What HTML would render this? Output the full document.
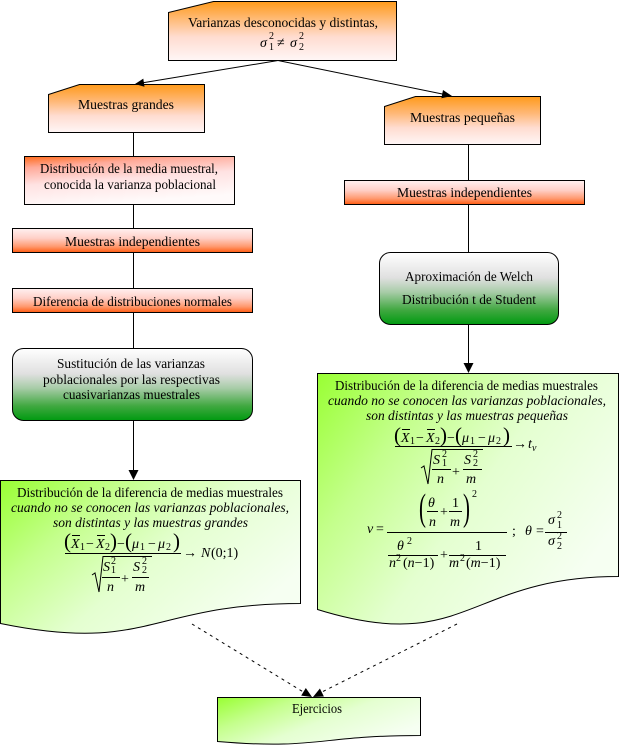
<!DOCTYPE html>
<html>
<head>
<meta charset="utf-8">
<style>
html,body{margin:0;padding:0;background:#fff;}
svg{display:block;font-family:"Liberation Serif","DejaVu Serif",serif;}
svg text{font-family:"Liberation Serif","DejaVu Serif",serif;fill:#000;}
.t{font-size:13.3px;}
.i{font-style:italic;}
.m{font-size:14px;}
.s{font-size:10px;}
</style>
</head>
<body>
<svg width="619" height="746" viewBox="0 0 619 746" xmlns="http://www.w3.org/2000/svg" font-family="Liberation Serif, DejaVu Serif, serif">
<defs>
  <linearGradient id="gOr" x1="0" y1="0" x2="0" y2="1">
    <stop offset="0" stop-color="#ff9a1a"/>
    <stop offset="0.3" stop-color="#ffbb77"/>
    <stop offset="0.6" stop-color="#ffdcd0"/>
    <stop offset="1" stop-color="#fff6f6"/>
  </linearGradient>
  <linearGradient id="gOr2" x1="0" y1="0" x2="0" y2="1">
    <stop offset="0" stop-color="#ff9a1a"/>
    <stop offset="0.35" stop-color="#ffb877"/>
    <stop offset="0.65" stop-color="#ffdcd0"/>
    <stop offset="1" stop-color="#fff6f6"/>
  </linearGradient>
  <linearGradient id="gDm" x1="0" y1="0" x2="0.3" y2="1">
    <stop offset="0" stop-color="#ff6a1a"/>
    <stop offset="0.22" stop-color="#ffaa99"/>
    <stop offset="0.55" stop-color="#ffe2e2"/>
    <stop offset="1" stop-color="#fffafa"/>
  </linearGradient>
  <linearGradient id="gIn" x1="0" y1="0" x2="0" y2="1">
    <stop offset="0" stop-color="#fff0f0"/>
    <stop offset="0.4" stop-color="#ffd0c8"/>
    <stop offset="0.75" stop-color="#ff9a70"/>
    <stop offset="1" stop-color="#ff5a10"/>
  </linearGradient>
  <linearGradient id="gGr" x1="0" y1="0" x2="0" y2="1">
    <stop offset="0" stop-color="#ffffff"/>
    <stop offset="0.35" stop-color="#e0e0e0"/>
    <stop offset="0.55" stop-color="#a8cca8"/>
    <stop offset="0.8" stop-color="#40a840"/>
    <stop offset="1" stop-color="#009a10"/>
  </linearGradient>
  <linearGradient id="gLg" x1="0" y1="0" x2="1" y2="0.6">
    <stop offset="0" stop-color="#99ff33"/>
    <stop offset="0.3" stop-color="#c4ff8c"/>
    <stop offset="0.6" stop-color="#e4ffd0"/>
    <stop offset="1" stop-color="#f6fff2"/>
  </linearGradient>
</defs>

<!-- connectors -->
<g stroke="#000" stroke-width="1" fill="none">
  <line x1="278" y1="60.5" x2="140" y2="83.2"/>
  <line x1="278" y1="60.5" x2="446" y2="94.8"/>
  <line x1="133.5" y1="132" x2="133.5" y2="156"/>
  <line x1="133.5" y1="204" x2="133.5" y2="228"/>
  <line x1="133.5" y1="252" x2="133.5" y2="288"/>
  <line x1="133.5" y1="312" x2="133.5" y2="348"/>
  <line x1="133.5" y1="420" x2="133.5" y2="472"/>
  <line x1="468.5" y1="144" x2="468.5" y2="180"/>
  <line x1="468.5" y1="204" x2="468.5" y2="252"/>
  <line x1="468.5" y1="324" x2="468.5" y2="365"/>
  <line x1="192" y1="624" x2="305" y2="693" stroke-dasharray="3,4"/>
  <line x1="457" y1="624" x2="320" y2="693" stroke-dasharray="3,4"/>
</g>

<!-- shapes -->
<g stroke="#000" stroke-width="1">
  <polygon points="168.5,12.5 213.5,1.5 396.5,1.5 396.5,60.5 168.5,60.5" fill="url(#gOr)"/>
  <polygon points="48.5,94.5 79.5,84.5 204.5,84.5 204.5,132.5 48.5,132.5" fill="url(#gOr2)"/>
  <rect x="24.5" y="156.5" width="210" height="48" fill="url(#gDm)"/>
  <rect x="12.5" y="228.5" width="240" height="24" fill="url(#gIn)"/>
  <rect x="12.5" y="288.5" width="240" height="24" fill="url(#gIn)"/>
  <rect x="12.5" y="348.5" width="240" height="72" rx="11" ry="11" fill="url(#gGr)"/>
  <path d="M0.5,480.5 H300.5 V603.5 C150,603.5 150,654 0.5,623.5 Z" fill="url(#gLg)"/>

  <polygon points="384.5,106.5 415.5,96.5 540.5,96.5 540.5,144.5 384.5,144.5" fill="url(#gOr2)"/>
  <rect x="344.5" y="180.5" width="240" height="24" fill="url(#gIn)"/>
  <rect x="379.5" y="252.5" width="179" height="72" rx="11" ry="11" fill="url(#gGr)"/>
  <path d="M317.5,373.5 H618.5 V576.5 C467,576.5 467,656 317.5,609.5 Z" fill="url(#gLg)"/>

  <path d="M217.5,697.5 H420.5 V735.5 C318,735.5 318,750 217.5,741.5 Z" fill="url(#gLg)"/>
</g>

<!-- arrowheads -->
<g fill="#000" stroke="none">
  <polygon points="135,84 143.3,78.6 144.5,86.8"/>
  <polygon points="452,96 441.4,98.2 443,90"/>
  <polygon points="133.5,480 128.5,470 138.5,470"/>
  <polygon points="468.5,373 463.5,363 473.5,363"/>
  <polygon points="312,697 301.2,695.6 305.8,688"/>
  <polygon points="313,697 323.9,696.5 319.9,688.5"/>
</g>

<!-- texts -->
<text class="t" x="188" y="27" textLength="190" lengthAdjust="spacingAndGlyphs">Varianzas desconocidas y distintas,</text>
<text class="m i" x="260" y="47">σ</text>
<text class="s" x="269" y="50">1</text>
<text class="s" x="269" y="39">2</text>
<text class="m" x="277" y="47">≠</text>
<text class="m i" x="290" y="47">σ</text>
<text class="s" x="299" y="50">2</text>
<text class="s" x="299" y="39">2</text>

<text class="t" x="78" y="109" textLength="96" lengthAdjust="spacingAndGlyphs">Muestras grandes</text>
<text class="t" x="40" y="173" textLength="178" lengthAdjust="spacingAndGlyphs">Distribución de la media muestral,</text>
<text class="t" x="44" y="189" textLength="172" lengthAdjust="spacingAndGlyphs">conocida la varianza poblacional</text>
<text class="t" x="65" y="246" textLength="135" lengthAdjust="spacingAndGlyphs">Muestras independientes</text>
<text class="t" x="33" y="306" textLength="199" lengthAdjust="spacingAndGlyphs">Diferencia de distribuciones normales</text>
<text class="t" x="57" y="368" textLength="148" lengthAdjust="spacingAndGlyphs">Sustitución de las varianzas</text>
<text class="t" x="43" y="384" textLength="177" lengthAdjust="spacingAndGlyphs">poblacionales por las respectivas</text>
<text class="t" x="63" y="399" textLength="137" lengthAdjust="spacingAndGlyphs">cuasivarianzas muestrales</text>

<text class="t" x="17" y="497" textLength="266" lengthAdjust="spacingAndGlyphs">Distribución de la diferencia de medias muestrales</text>
<text class="t i" x="11" y="512" textLength="278" lengthAdjust="spacingAndGlyphs">cuando no se conocen las varianzas poblacionales,</text>
<text class="t i" x="53" y="527" textLength="195" lengthAdjust="spacingAndGlyphs">son distintas y las muestras grandes</text>

<!-- left formula -->
<g>
  <text x="64" y="548" font-size="21">(</text>
  <text class="m i" x="71" y="548">X</text>
  <text class="s" x="80" y="550">1</text>
  <text class="m" x="86" y="548">−</text>
  <text class="m i" x="96" y="548">X</text>
  <text class="s" x="105" y="550">2</text>
  <text x="110" y="548" font-size="21">)</text>
  <text class="m" x="117" y="548">−</text>
  <text x="125" y="548" font-size="21">(</text>
  <text class="m i" x="132" y="548">μ</text>
  <text class="s" x="140" y="550">1</text>
  <text class="m" x="148" y="548">−</text>
  <text class="m i" x="158" y="548">μ</text>
  <text class="s" x="166" y="550">2</text>
  <text x="173" y="548" font-size="21">)</text>
  <g stroke="#000" stroke-width="1" fill="none">
    <line x1="72" y1="535.5" x2="80" y2="535.5"/>
    <line x1="97" y1="535.5" x2="105" y2="535.5"/>
    <line x1="65" y1="553.5" x2="181" y2="553.5"/>
    <polyline points="92,575 95,573 99,592 103,556.5 152,556.5"/>
    <line x1="102" y1="577.5" x2="120" y2="577.5"/>
    <line x1="132" y1="577.5" x2="149" y2="577.5"/>
  </g>
  <text class="m i" x="103" y="571">S</text>
  <text class="s" x="111" y="564">2</text>
  <text class="s" x="111" y="573">1</text>
  <text class="m i" x="107" y="591">n</text>
  <text class="m" x="121" y="583">+</text>
  <text class="m i" x="133" y="571">S</text>
  <text class="s" x="142" y="564">2</text>
  <text class="s" x="142" y="573">2</text>
  <text class="m i" x="135" y="591">m</text>
  <text class="m" x="183" y="557">→</text>
  <text class="m i" x="201" y="557">N</text>
  <text class="m" x="211" y="557">(0;1)</text>
</g>

<text class="t" x="410" y="122" textLength="105" lengthAdjust="spacingAndGlyphs">Muestras pequeñas</text>
<text class="t" x="397" y="197" textLength="135" lengthAdjust="spacingAndGlyphs">Muestras independientes</text>
<text class="t" x="405" y="281" textLength="128" lengthAdjust="spacingAndGlyphs">Aproximación de Welch</text>
<text class="t" x="402" y="304" textLength="134" lengthAdjust="spacingAndGlyphs">Distribución t de Student</text>

<text class="t" x="335" y="390" textLength="263" lengthAdjust="spacingAndGlyphs">Distribución de la diferencia de medias muestrales</text>
<text class="t i" x="328" y="405" textLength="278" lengthAdjust="spacingAndGlyphs">cuando no se conocen las varianzas poblacionales,</text>
<text class="t i" x="366" y="420" textLength="202" lengthAdjust="spacingAndGlyphs">son distintas y las muestras pequeñas</text>

<!-- right formula (t) -->
<g>
  <text x="394" y="442" font-size="21">(</text>
  <text class="m i" x="401" y="442">X</text>
  <text class="s" x="410" y="444">1</text>
  <text class="m" x="416" y="442">−</text>
  <text class="m i" x="426" y="442">X</text>
  <text class="s" x="435" y="444">2</text>
  <text x="440" y="442" font-size="21">)</text>
  <text class="m" x="447" y="442">−</text>
  <text x="455" y="442" font-size="21">(</text>
  <text class="m i" x="462" y="442">μ</text>
  <text class="s" x="470" y="444">1</text>
  <text class="m" x="478" y="442">−</text>
  <text class="m i" x="488" y="442">μ</text>
  <text class="s" x="496" y="444">2</text>
  <text x="503" y="442" font-size="21">)</text>
  <g stroke="#000" stroke-width="1" fill="none">
    <line x1="402" y1="429.5" x2="410" y2="429.5"/>
    <line x1="427" y1="429.5" x2="435" y2="429.5"/>
    <line x1="395" y1="446.5" x2="512" y2="446.5"/>
    <polyline points="421,468 424,466 428,484 432,449.5 483,449.5"/>
    <line x1="432" y1="469.5" x2="451" y2="469.5"/>
    <line x1="463" y1="469.5" x2="482" y2="469.5"/>
  </g>
  <text class="m i" x="433" y="464">S</text>
  <text class="s" x="442" y="457">2</text>
  <text class="s" x="442" y="466">1</text>
  <text class="m i" x="437" y="483">n</text>
  <text class="m" x="452" y="476">+</text>
  <text class="m i" x="464" y="464">S</text>
  <text class="s" x="473" y="457">2</text>
  <text class="s" x="473" y="466">2</text>
  <text class="m i" x="466" y="483">m</text>
  <text class="m" x="513" y="448">→</text>
  <text class="m i" x="528" y="448">t</text>
  <text class="s i" x="532" y="451">ν</text>
</g>

<!-- nu formula -->
<g>
  <text class="m i" x="367" y="533">ν</text>
  <text class="m" x="376" y="533">=</text>
  <g stroke="#000" stroke-width="1" fill="none">
    <line x1="387" y1="532.5" x2="507" y2="532.5"/>
    <line x1="427" y1="511.5" x2="438" y2="511.5"/>
    <line x1="449" y1="511.5" x2="462" y2="511.5"/>
    <line x1="388" y1="555.5" x2="438" y2="555.5"/>
    <line x1="449" y1="555.5" x2="506" y2="555.5"/>
    <line x1="545" y1="532.5" x2="567" y2="532.5"/>
  </g>
  <text transform="translate(419,520) scale(0.55,1)" font-size="38">(</text>
  <text class="m i" x="428" y="507">θ</text>
  <text class="m i" x="429" y="526">n</text>
  <text class="m" x="440" y="516">+</text>
  <text class="m" x="452" y="507">1</text>
  <text class="m i" x="450" y="526">m</text>
  <text transform="translate(463,520) scale(0.55,1)" font-size="38">)</text>
  <text class="s" x="472" y="497">2</text>

  <text class="m i" x="397" y="550">θ</text>
  <text class="s" x="407" y="544">2</text>
  <text class="m i" x="389" y="567">n</text>
  <text class="s" x="396" y="561">2</text>
  <text class="m" x="403" y="567">(<tspan class="i">n</tspan>−1)</text>
  <text class="m" x="440" y="559">+</text>
  <text class="m" x="475" y="550">1</text>
  <text class="m i" x="449" y="567">m</text>
  <text class="s" x="460" y="561">2</text>
  <text class="m" x="466" y="567">(<tspan class="i">m</tspan>−1)</text>

  <text class="m" x="512" y="535">;</text>
  <text class="m i" x="525" y="535">θ</text>
  <text class="m" x="536" y="535">=</text>
  <text class="m i" x="548" y="524">σ</text>
  <text class="s" x="557" y="518">2</text>
  <text class="s" x="557" y="528">1</text>
  <text class="m i" x="548" y="545">σ</text>
  <text class="s" x="557" y="539">2</text>
  <text class="s" x="557" y="549">2</text>
</g>

<text class="t" x="292" y="713" textLength="50" lengthAdjust="spacingAndGlyphs">Ejercicios</text>
</svg>
</body>
</html>
